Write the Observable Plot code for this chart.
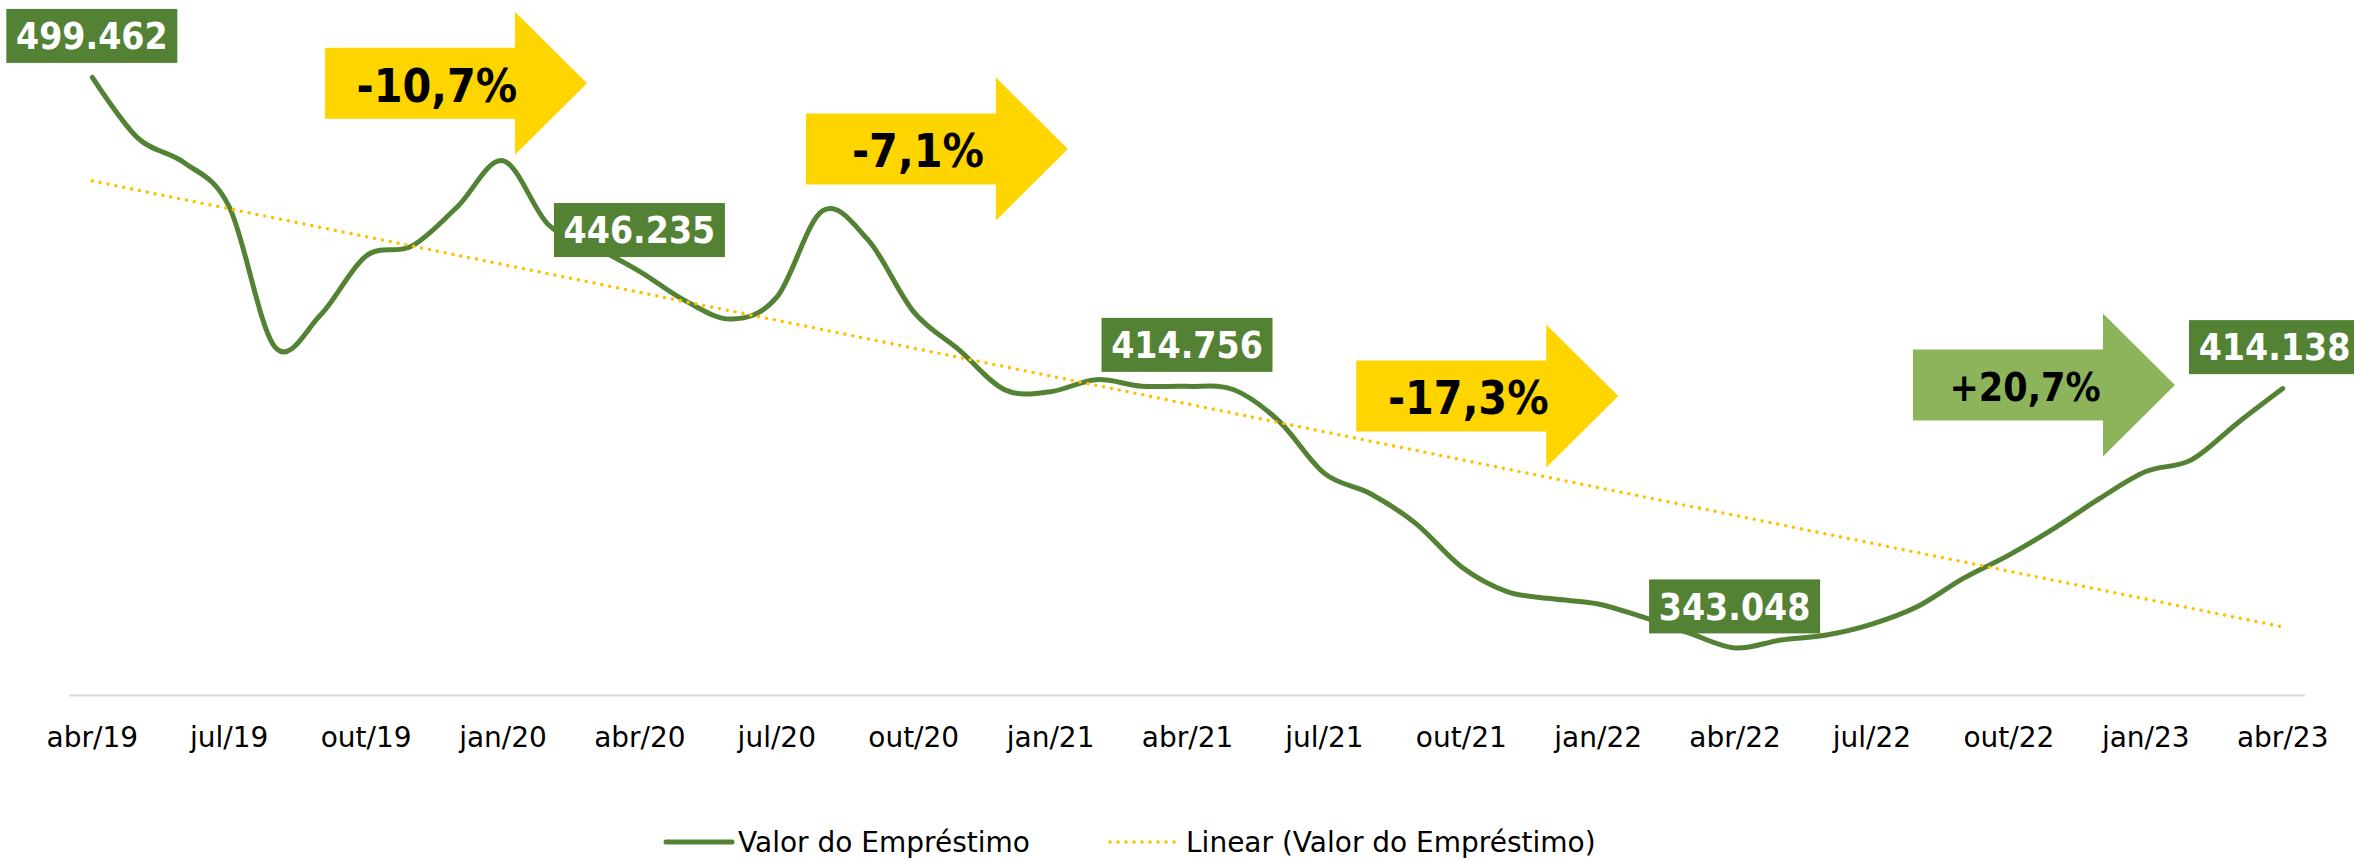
<!DOCTYPE html>
<html><head><meta charset="utf-8">
<script src="https://cdn.jsdelivr.net/npm/d3@7"></script>
<script src="https://cdn.jsdelivr.net/npm/@observablehq/plot@0.6"></script>
<style>
body{margin:0;background:#fff;overflow:hidden;}
#chart svg{display:block}
</style></head><body><div id="chart"></div>
<script>
// Categories (months)
const months = ["abr/19","mai/19","jun/19","jul/19","ago/19","set/19","out/19","nov/19","dez/19",
  "jan/20","fev/20","mar/20","abr/20","mai/20","jun/20","jul/20","ago/20","set/20","out/20","nov/20","dez/20",
  "jan/21","fev/21","mar/21","abr/21","mai/21","jun/21","jul/21","ago/21","set/21","out/21","nov/21","dez/21",
  "jan/22","fev/22","mar/22","abr/22","mai/22","jun/22","jul/22","ago/22","set/22","out/22","nov/22","dez/22",
  "jan/23","fev/23","mar/23","abr/23"];
// Valor do Empréstimo (milhares)
const values = [499.462, 482.8, 476.2, 464.0, 425.6, 434.3, 450.5, 453.2, 464.0,
  476.6, 459.0, 453.0, 446.235, 438.2, 433.2, 439.2, 462.9, 454.9, 435.2, 424.7, 413.8,
  413.3, 416.6, 414.8, 414.756, 413.9, 405.3, 390.9, 385.4, 377.2, 365.3, 358.5, 356.5,
  355.1, 351.4, 347.1, 343.048, 345.2, 346.6, 349.6, 354.4, 362.1, 368.5, 375.9, 384.1,
  391.4, 394.6, 404.6, 414.138];
// Tick labels
const tickLabels = ["abr/19","jul/19","out/19","jan/20","abr/20","jul/20","out/20","jan/21","abr/21",
  "jul/21","out/21","jan/22","abr/22","jul/22","out/22","jan/23","abr/23"];
// Data labels
const labelMonths = ["abr/19","abr/20","abr/21","abr/22","abr/23"];
// Variation arrows (annotation anchor: month index of arrow centre, value of arrow centre)
const arrowLabels = ["-10,7%","-7,1%","-17,3%","+20,7%"];
const arrowX = [7.98, 18.52, 30.58, 42.78];
const arrowY = [497.7, 479.7, 412.0, 415.0];
// Legend
const legendLabels = ["Valor do Empréstimo","Linear (Valor do Empréstimo)"];

const W = 2354;
const GREEN = "#548235", TREND = "#FFC000", YELLOW = "#FFD500", LGREEN = "#8DB35B";
const FONT = "'DejaVu Sans', Verdana, sans-serif";
const BFONT = "'DejaVu Sans Condensed', 'DejaVu Sans', Verdana, sans-serif";
const data = months.map((m, i) => ({i, m, v: values[i]}));
const tickIdx = tickLabels.map(t => months.indexOf(t));

function arrowsMark(index, {x, y}) {
  const g = d3.create("svg:g");
  arrowLabels.forEach((lab, k) => {
    const cx = x(arrowX[k]), cy = y(arrowY[k]);
    const L = cx - 131, bw = 190, hw = 72, bh = 35.5, hh = 71.5;
    const pts = [[L, cy - bh], [L + bw, cy - bh], [L + bw, cy - hh], [L + bw + hw, cy],
      [L + bw, cy + hh], [L + bw, cy + bh], [L, cy + bh]];
    const pos = lab.startsWith("+");
    g.append("polygon").attr("points", pts.map(p => p.join(",")).join(" "))
      .attr("fill", pos ? LGREEN : YELLOW);
    g.append("text").attr("x", L + 112).attr("y", cy).attr("dy", "0.4em")
      .attr("text-anchor", "middle").attr("font-family", BFONT).style("font-stretch", "condensed")
      .attr("font-weight", "bold")
      .attr("font-size", pos ? 39 : 46).attr("fill", "#000").text(lab);
  });
  return g.node();
}

function labelsMark(index, {x, y}) {
  const g = d3.create("svg:g");
  labelMonths.forEach(m => {
    const i = months.indexOf(m), v = values[i];
    const bw = 171, bh = 54;
    const cx = Math.min(x(i), W + 6 - bw / 2);
    const bottom = y(v) - 14;
    g.append("rect").attr("x", cx - bw / 2).attr("y", bottom - bh).attr("width", bw).attr("height", bh).attr("fill", GREEN);
    g.append("text").attr("x", cx).attr("y", bottom - bh / 2).attr("dy", "0.36em")
      .attr("text-anchor", "middle").attr("fill", "#fff").attr("font-weight", "bold")
      .style("font-stretch", "condensed")
      .attr("font-size", 37).attr("font-family", BFONT).text(v.toFixed(3));
  });
  return g.node();
}

const chart = Plot.plot({
  width: W, height: 800,
  marginLeft: 69, marginRight: 49, marginTop: 2, marginBottom: 105,
  style: {fontFamily: FONT, fontSize: "28px", color: "#000", background: "#fff"},
  x: {domain: [-0.5, 48.5], ticks: tickIdx, tickFormat: i => months[i], tickSize: 0, tickPadding: 32, label: null},
  y: {domain: [330, 520], axis: null},
  marks: [
    Plot.ruleY([330], {stroke: "#D9D9D9", strokeWidth: 2}),
    Plot.line(data, {x: "i", y: "v", curve: "cardinal", stroke: GREEN, strokeWidth: 5, strokeLinecap: "round", strokeLinejoin: "round"}),
    Plot.linearRegressionY(data, {x: "i", y: "v", ci: 0, stroke: TREND, strokeWidth: 3.6, strokeDasharray: "0,8", strokeLinecap: "round"}),
    labelsMark,
    arrowsMark
  ]
});
document.getElementById("chart").appendChild(chart);

// Legend below the chart
const leg = d3.create("svg").attr("width", W).attr("height", 61).style("display", "block");
leg.append("line").attr("x1", 666).attr("x2", 732).attr("y1", 42).attr("y2", 42)
  .attr("stroke", GREEN).attr("stroke-width", 5).attr("stroke-linecap", "round");
leg.append("text").attr("x", 738).attr("y", 52).attr("font-family", FONT).attr("font-size", 28).attr("fill", "#000").text(legendLabels[0]);
leg.append("line").attr("x1", 1110).attr("x2", 1178).attr("y1", 42).attr("y2", 42)
  .attr("stroke", TREND).attr("stroke-width", 3.6).attr("stroke-dasharray", "0,8").attr("stroke-linecap", "round");
leg.append("text").attr("x", 1186).attr("y", 52).attr("font-family", FONT).attr("font-size", 28).attr("fill", "#000").text(legendLabels[1]);
document.getElementById("chart").appendChild(leg.node());
</script>
</body></html>
